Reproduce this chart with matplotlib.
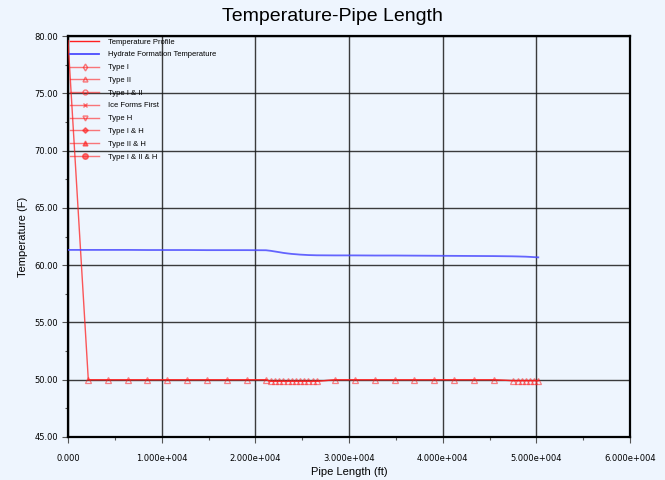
import matplotlib
matplotlib.use("Agg")
import matplotlib.pyplot as plt
from matplotlib.lines import Line2D

# ---- data ----
profile_len_ft = [0, 2167, 4238, 6374, 8466, 10601, 12704, 14839, 16943, 19078, 21138,
                  21640, 22099, 22558, 22985, 23455, 23882, 24341, 24768, 25227, 25654, 26124, 26551,
                  28536, 30671, 32775, 34878, 36970, 39105, 41241, 43344, 45447,
                  47475, 48009, 48436, 48863, 49322, 49749, 50208]
profile_temp_f = [79.6, 50.0, 50.0, 50.0, 50.0, 50.0, 50.0, 50.0, 50.0, 50.0, 50.0,
                  49.86, 49.86, 49.86, 49.86, 49.86, 49.86, 49.86, 49.86, 49.86, 49.86, 49.86, 49.86,
                  50.0, 50.0, 50.0, 50.0, 50.0, 50.0, 50.0, 50.0, 50.0,
                  49.92, 49.92, 49.92, 49.92, 49.92, 49.92, 49.92]
hydrate_temp_f = [61.33, 61.33, 61.33, 61.33, 61.32, 61.32, 61.32, 61.31, 61.31, 61.31, 61.30,
                  61.25, 61.19, 61.13, 61.07, 61.02, 60.98, 60.95, 60.92, 60.90, 60.88, 60.87, 60.86,
                  60.85, 60.85, 60.84, 60.84, 60.83, 60.82, 60.81, 60.80, 60.79,
                  60.77, 60.76, 60.75, 60.74, 60.72, 60.70, 60.68]
typeII_len_ft = profile_len_ft[1:]
typeII_temp_f = profile_temp_f[1:]

x_ticks = [0, 10000, 20000, 30000, 40000, 50000, 60000]
x_tick_labels = ["0.000", "1.000e+004", "2.000e+004", "3.000e+004", "4.000e+004", "5.000e+004", "6.000e+004"]
y_ticks = [45, 50, 55, 60, 65, 70, 75, 80]
y_tick_labels = ["45.00", "50.00", "55.00", "60.00", "65.00", "70.00", "75.00", "80.00"]
legend_labels = ["Temperature Profile", "Hydrate Formation Temperature", "Type I", "Type II",
                 "Type I & II", "Ice Forms First", "Type H", "Type I & H", "Type II & H", "Type I & II & H"]

# ---- style ----
bg = "#EEF5FE"
red = "#FF2020"
blue = "#4B4BFF"

fig = plt.figure(figsize=(6.65, 4.8), dpi=100, facecolor=bg)
ax = fig.add_axes([68/665, 43/480, (630-68)/665, (437-36)/480], facecolor=bg)

ax.plot(profile_len_ft, profile_temp_f, color=red, lw=1.0, alpha=0.75, zorder=3)
ax.plot(profile_len_ft, hydrate_temp_f, color=blue, lw=1.3, alpha=0.85, zorder=3)
ax.plot(typeII_len_ft, typeII_temp_f, color=red, lw=1.0, alpha=0.55, marker="^",
        markersize=4, markerfacecolor="none", markeredgecolor=red, markeredgewidth=0.9, zorder=4)

ax.set_xlim(0, 60000)
ax.set_ylim(45, 80)
ax.set_xticks(x_ticks)
ax.set_xticklabels(x_tick_labels, fontsize=6, family="DejaVu Sans")
ax.set_yticks(y_ticks)
ax.set_yticklabels(y_tick_labels, fontsize=6, family="DejaVu Sans")
ax.set_xticks([5000, 15000, 25000, 35000, 45000, 55000], minor=True)
ax.set_yticks([47.5, 52.5, 57.5, 62.5, 67.5, 72.5, 77.5], minor=True)
ax.tick_params(axis="both", which="major", direction="out", length=4, width=0.8, color="#555555")
ax.tick_params(axis="both", which="minor", direction="out", length=2.5, width=0.8, color="#555555")
ax.tick_params(axis="x", which="major", pad=8)
ax.tick_params(axis="y", which="major", pad=3)

ax.grid(True, which="major", color="#1a1a1a", lw=1.0, alpha=0.85, zorder=1)
for s in ax.spines.values():
    s.set_linewidth(1.6)
    s.set_color("black")

ax.set_xlabel("Pipe Length (ft)", fontsize=8, family="Liberation Sans", labelpad=3)
ax.set_ylabel("Temperature (F)", fontsize=8, family="Liberation Sans", labelpad=5)
fig.text(0.5, 0.966, "Temperature-Pipe Length", ha="center", va="center",
         fontsize=14, family="Liberation Sans")

handles = [
    Line2D([], [], color=red, lw=1.0),
    Line2D([], [], color=blue, lw=1.3),
    Line2D([], [], color=red, lw=1.0, alpha=0.6, marker="d", markersize=3.5, mfc="none"),
    Line2D([], [], color=red, lw=1.0, alpha=0.6, marker="^", markersize=3.5, mfc="none"),
    Line2D([], [], color=red, lw=1.0, alpha=0.6, marker="o", markersize=3.5, mfc="none"),
    Line2D([], [], color=red, lw=1.0, alpha=0.6, marker="x", markersize=3.5),
    Line2D([], [], color=red, lw=1.0, alpha=0.6, marker="v", markersize=3.5, mfc="none"),
    Line2D([], [], color=red, lw=1.0, alpha=0.6, marker="D", markersize=2.8),
    Line2D([], [], color=red, lw=1.0, alpha=0.6, marker="^", markersize=3.5),
    Line2D([], [], color=red, lw=1.0, alpha=0.6, marker="o", markersize=4),
]
leg = ax.legend(handles, legend_labels, loc="upper left", frameon=False,
                prop={"family": "Liberation Sans", "size": 5.5},
                handlelength=3.8, handletextpad=1.1, labelspacing=0.71,
                borderpad=0.0, borderaxespad=0.3)
leg.set_zorder(5)

fig.savefig("out.png", dpi=100, facecolor=bg)
